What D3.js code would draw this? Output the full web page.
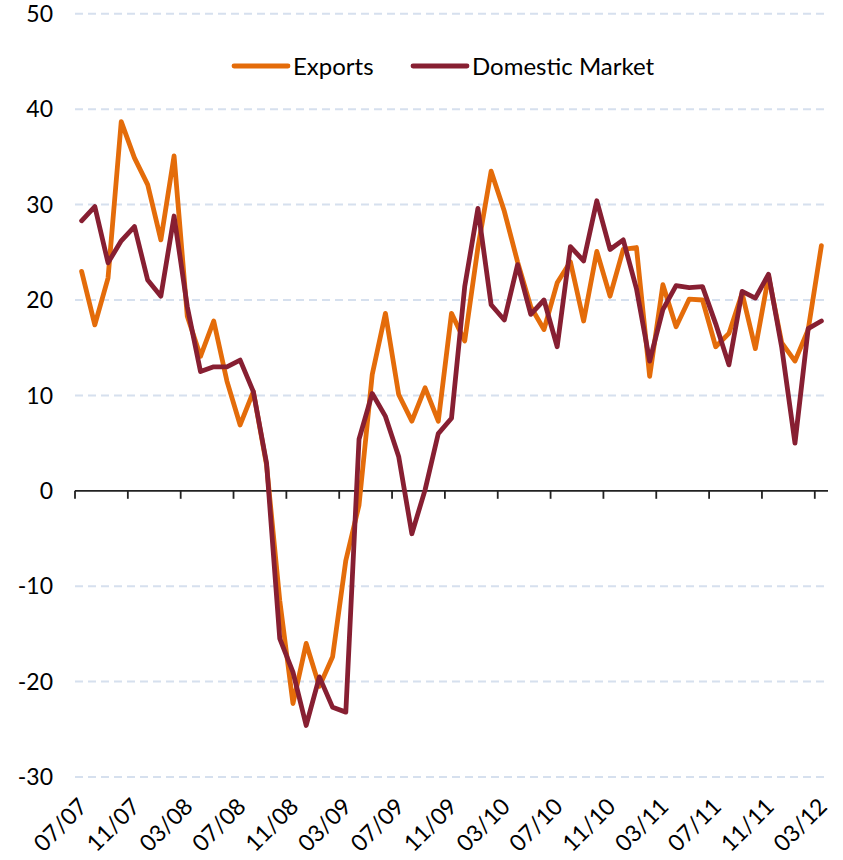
<!DOCTYPE html>
<html>
<head>
<meta charset="utf-8">
<script src="https://cdn.jsdelivr.net/npm/d3@7"></script>
<style>
  body { margin: 0; background: #fff; }
  svg { display: block; font-family: Lato, "Noto Sans", sans-serif; }
  .grid line { stroke: #d6e0ee; stroke-width: 2; stroke-dasharray: 8,5; }
</style>
</head>
<body>
<svg width="843" height="860"></svg>
<script>
const months = [
  "07/07","08/07","09/07","10/07","11/07","12/07","01/08","02/08","03/08","04/08","05/08","06/08",
  "07/08","08/08","09/08","10/08","11/08","12/08","01/09","02/09","03/09","04/09","05/09","06/09",
  "07/09","08/09","09/09","10/09","11/09","12/09","01/10","02/10","03/10","04/10","05/10","06/10",
  "07/10","08/10","09/10","10/10","11/10","12/10","01/11","02/11","03/11","04/11","05/11","06/11",
  "07/11","08/11","09/11","10/11","11/11","12/11","01/12","02/12","03/12"
];
const tick_labels = ["07/07","11/07","03/08","07/08","11/08","03/09","07/09","11/09","03/10","07/10","11/10","03/11","07/11","11/11","03/12"];
const y_ticks = [50, 40, 30, 20, 10, 0, -10, -20, -30];

const exports_values = [
  23.0, 17.4, 22.3, 38.7, 34.9, 32.1, 26.3, 35.1, 18.3, 14.1, 17.8, 11.5,
  6.9, 10.4, 2.7, -11.5, -22.3, -16.0, -20.5, -17.4, -7.3, -1.5, 12.2, 18.6,
  10.1, 7.3, 10.8, 7.3, 18.6, 15.7, 25.5, 33.5, 29.3, 24.0, 19.3, 16.9,
  21.8, 24.0, 17.8, 25.1, 20.4, 25.3, 25.5, 12.0, 21.6, 17.2, 20.1, 20.0,
  15.1, 16.5, 20.7, 14.9, 22.5, 15.5, 13.6, 16.9, 25.7
];
const domestic_values = [
  28.3, 29.8, 23.9, 26.2, 27.7, 22.1, 20.4, 28.8, 19.3, 12.5, 13.0, 13.0,
  13.7, 10.4, 2.9, -15.5, -19.0, -24.6, -19.5, -22.7, -23.2, 5.4, 10.2, 7.8,
  3.6, -4.5, 0.1, 6.0, 7.6, 21.4, 29.6, 19.5, 17.9, 23.7, 18.5, 20.0,
  15.1, 25.6, 24.1, 30.4, 25.3, 26.3, 21.2, 13.6, 19.0, 21.5, 21.3, 21.4,
  17.5, 13.2, 20.9, 20.2, 22.7, 15.0, 5.0, 17.0, 17.8
];

const series = [
  { name: "Exports", values: exports_values, color: "#e46c0a" },
  { name: "Domestic Market", values: domestic_values, color: "#871f32" }
];

const plot_left = 75, plot_right = 828, plot_top = 13.8, plot_bottom = 777;
const svg = d3.select("svg");

const x = d3.scaleBand().domain(months).range([plot_left, plot_right]).padding(0);
const y = d3.scaleLinear().domain([-30, 50]).range([plot_bottom, plot_top]);
const cx = (m) => x(m) + x.bandwidth() / 2;

// dashed gridlines
svg.append("g").attr("class", "grid")
  .selectAll("line")
  .data(y_ticks.filter((t) => t != 0))
  .join("line")
  .attr("x1", plot_left).attr("x2", plot_right)
  .attr("y1", (d) => y(d)).attr("y2", (d) => y(d));

// y tick labels
svg.append("g")
  .selectAll("text")
  .data(y_ticks)
  .join("text")
  .attr("x", 53)
  .attr("y", (d) => y(d))
  .attr("dy", "0.36em")
  .attr("text-anchor", "end")
  .attr("font-size", 23)
  .attr("fill", "#000")
  .text((d) => d);

// zero axis with ticks every 4 months
const x_axis = svg.append("g").attr("transform", "translate(0," + y(0) + ")");
x_axis.append("line")
  .attr("x1", plot_left).attr("x2", plot_right)
  .attr("stroke", "#222").attr("stroke-width", 1.8);
x_axis.selectAll("line.tick")
  .data(tick_labels)
  .join("line")
  .attr("class", "tick")
  .attr("x1", (d) => x(d)).attr("x2", (d) => x(d))
  .attr("y1", 0).attr("y2", 8)
  .attr("stroke", "#222").attr("stroke-width", 1.8);

// rotated month labels below the plot
svg.append("g")
  .selectAll("text")
  .data(tick_labels)
  .join("text")
  .attr("transform", (d) => "translate(" + (cx(d) + 7) + ",808) rotate(-45)")
  .attr("text-anchor", "end")
  .attr("font-size", 23)
  .attr("fill", "#000")
  .text((d) => d);

const line = d3.line()
  .x((d, i) => cx(months[i]))
  .y((d) => y(d));

series.forEach((s) => {
  svg.append("path")
    .datum(s.values)
    .attr("d", line)
    .attr("fill", "none")
    .attr("stroke", s.color)
    .attr("stroke-width", 4.8)
    .attr("stroke-linejoin", "round")
    .attr("stroke-linecap", "round");
});

// legend
const legend_pos = [234, 413];
series.forEach((s, i) => {
  const g = svg.append("g").attr("transform", "translate(" + legend_pos[i] + ",66)");
  g.append("line")
    .attr("x1", 0).attr("x2", 54)
    .attr("stroke", s.color).attr("stroke-width", 4.8)
    .attr("stroke-linecap", "round");
  g.append("text")
    .attr("x", 59).attr("dy", "0.36em")
    .attr("font-size", 24)
    .attr("fill", "#000")
    .text(s.name);
});
</script>
</body>
</html>
